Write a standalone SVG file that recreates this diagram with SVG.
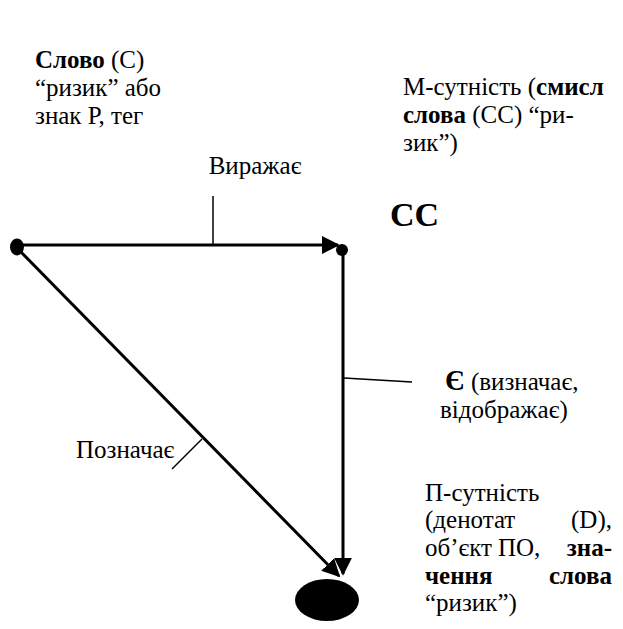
<svg xmlns="http://www.w3.org/2000/svg" width="623" height="629" viewBox="0 0 623 629">
  <style>
    text { font-family: "Liberation Serif", "Times New Roman", serif; font-size: 25px; fill: #000; }
    .b { font-weight: bold; }
    .cc { font-weight: bold; font-size: 34px; }
    .ye { font-weight: bold; font-size: 29px; }
    .edge { stroke: #000; stroke-width: 3; fill: none; }
    .tick { stroke: #000; stroke-width: 1.5; fill: none; }
  </style>
  <defs>
    <marker id="arrow" viewBox="0 0 10 10" refX="9" refY="5" markerWidth="6" markerHeight="6" markerUnits="strokeWidth" orient="auto">
      <path d="M0,0 L10,5 L0,10 z" fill="#000"/>
    </marker>
  </defs>

  <rect width="623" height="629" fill="#fff"/>

  <!-- relations between word, sense and denotat, with their label ticks -->
  <g id="connectors">
    <line class="edge" x1="20" y1="245" x2="338" y2="245" marker-end="url(#arrow)"/>
    <line class="edge" x1="343" y1="252" x2="343" y2="574" marker-end="url(#arrow)"/>
    <line class="edge" x1="19" y1="250" x2="339" y2="576" marker-end="url(#arrow)"/>
    <line class="tick" x1="213" y1="196" x2="213" y2="244"/>
    <line class="tick" x1="344" y1="378" x2="412" y2="382"/>
    <line class="tick" x1="172" y1="469" x2="202" y2="439"/>
    <text x="255" y="174" text-anchor="middle">Виражає</text>
    <text x="76" y="458">Позначає</text>
    <text x="445" y="390"><tspan class="ye">Є</tspan> (визначає,</text>
    <text x="440" y="418">відображає)</text>
  </g>

  <g id="word">
    <ellipse cx="17" cy="247" rx="7" ry="8.5" fill="#000"/>
    <text x="35" y="68"><tspan class="b">Слово</tspan> (С)</text>
    <text x="35" y="96">“ризик” або</text>
    <text x="35" y="124">знак Р, тег</text>
  </g>

  <g id="sense">
    <circle cx="342" cy="250" r="6" fill="#000"/>
    <text x="390" y="226" class="cc">СС</text>
    <text x="403" y="95">М-сутність (<tspan class="b">смисл</tspan></text>
    <text x="403" y="123"><tspan class="b">слова</tspan> (СС) “ри-</text>
    <text x="403" y="151">зик”)</text>
  </g>

  <g id="denotat">
    <ellipse cx="327" cy="600" rx="32" ry="21" fill="#000"/>
    <text x="425" y="501">П-сутність</text>
    <text x="425" y="528">(денотат</text>
    <text x="612" y="528" text-anchor="end">(D),</text>
    <text x="425" y="556">об’єкт</text>
    <text x="498" y="556">ПО,</text>
    <text x="612" y="556" text-anchor="end" class="b">зна-</text>
    <text x="425" y="584" class="b">чення</text>
    <text x="612" y="584" text-anchor="end" class="b">слова</text>
    <text x="425" y="611">“ризик”)</text>
  </g>
</svg>
